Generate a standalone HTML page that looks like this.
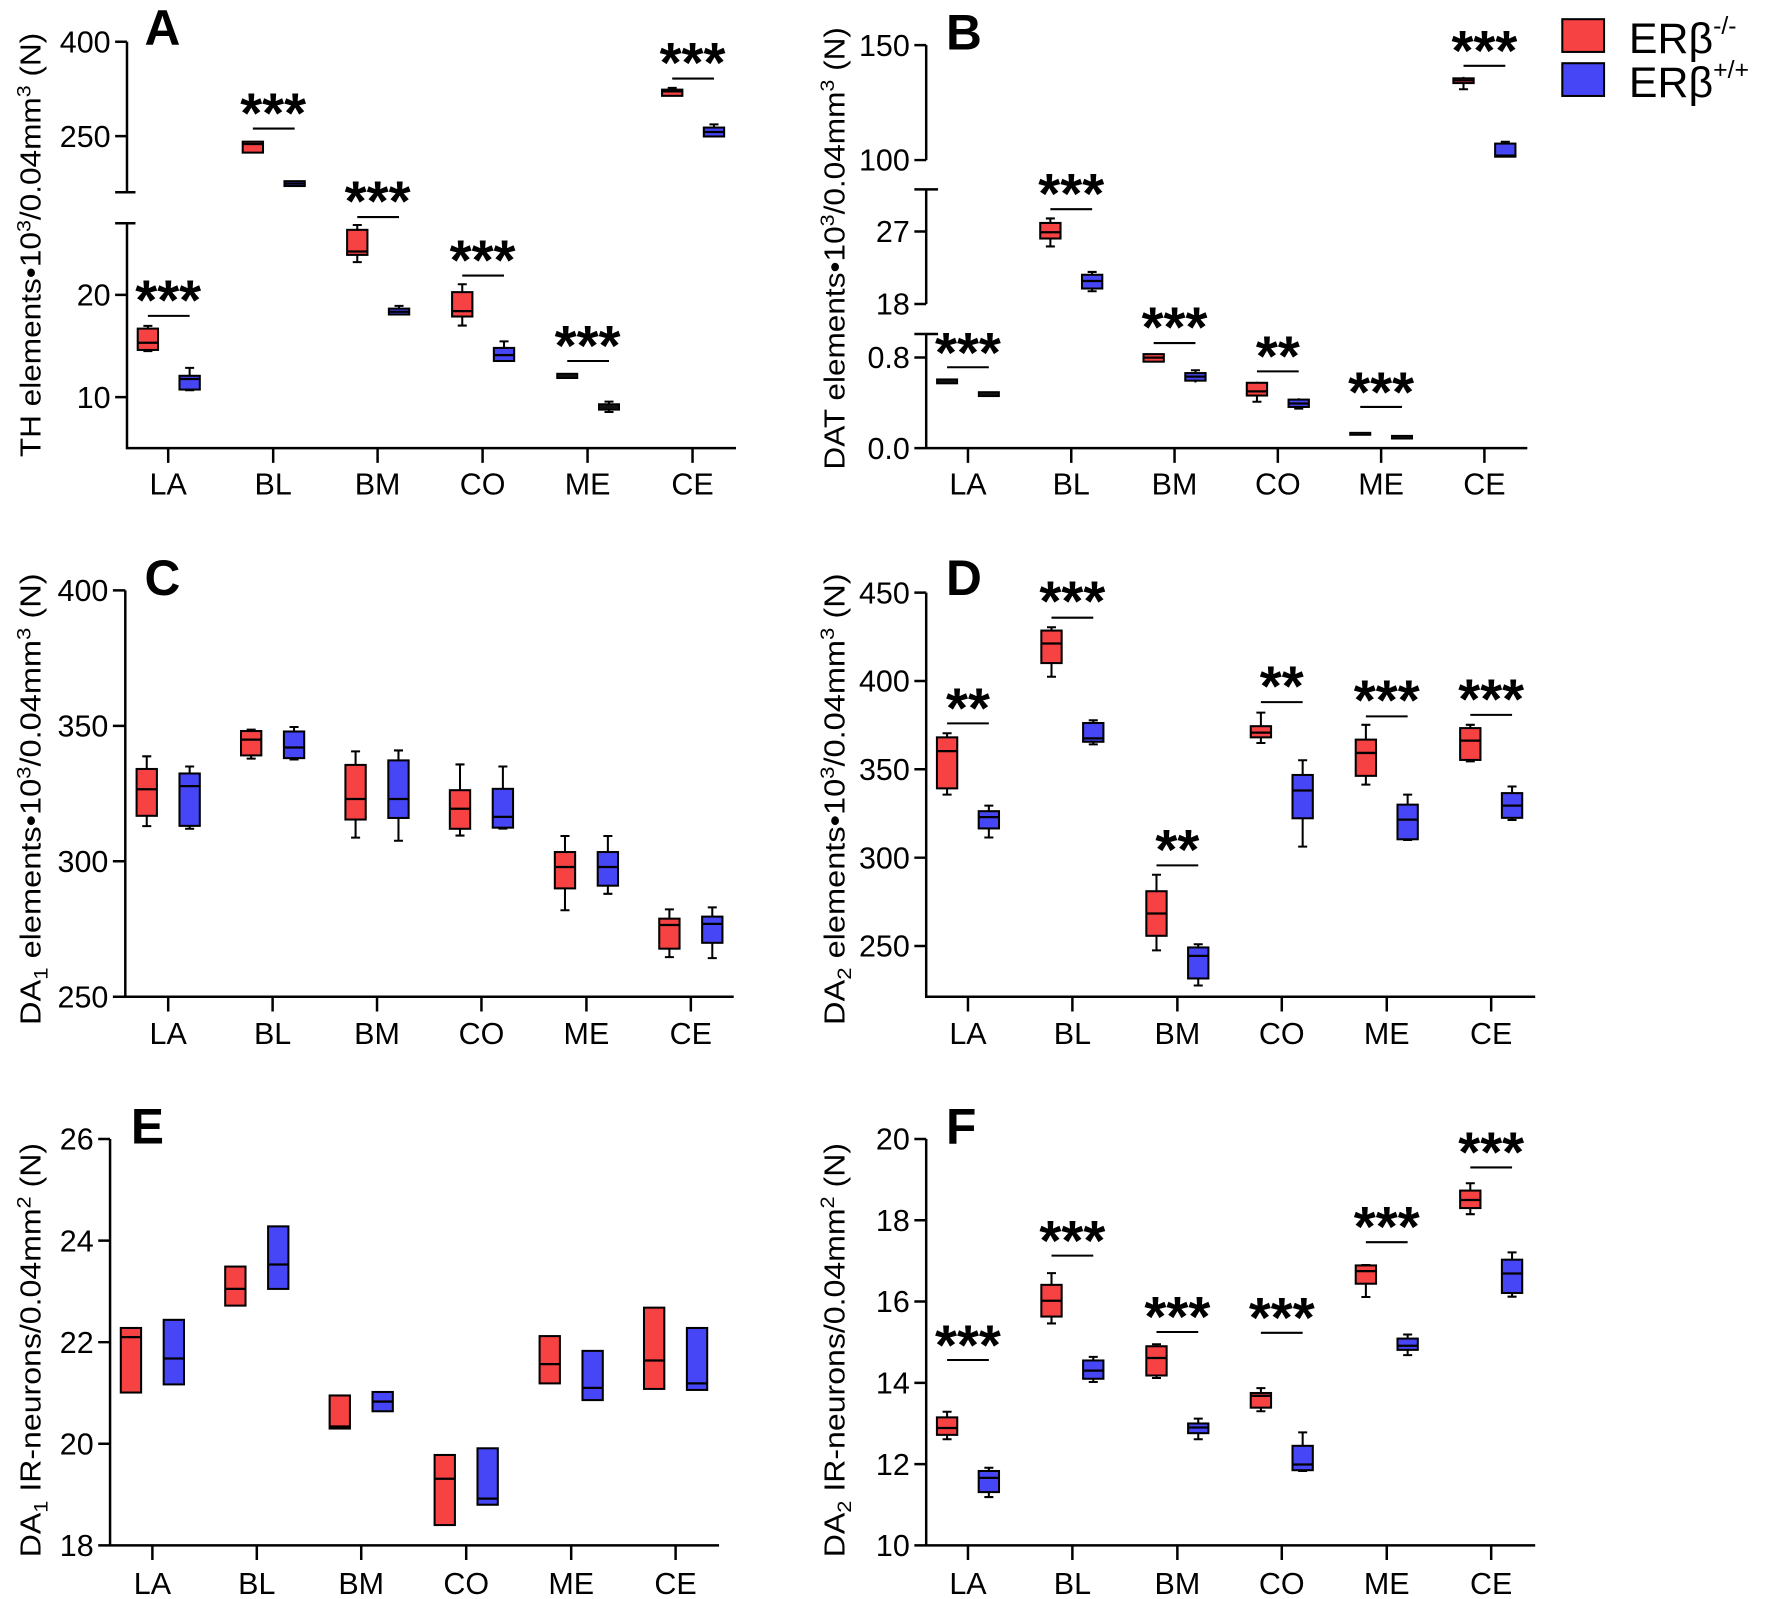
<!DOCTYPE html>
<html><head><meta charset="utf-8"><style>
html,body{margin:0;padding:0;background:#fff}
svg{display:block}
text{font-family:"Liberation Sans",Arial,sans-serif;fill:#000}
.ax{stroke:#000;stroke-width:2.2;fill:none}
.w{stroke:#000;stroke-width:1.8;fill:none}
.r{fill:#F64242;stroke:#000;stroke-width:1.8}
.b{fill:#4646F6;stroke:#000;stroke-width:1.8}
.k{fill:#111;stroke:#000;stroke-width:1.5}
.m{stroke:#000;stroke-width:2;fill:none}
.sg{stroke:#000;stroke-width:1.8}
.tl{font-size:27px;text-anchor:end}
.cl{font-size:27px;text-anchor:middle}
.st{font-size:50px;font-weight:bold;text-anchor:middle}
.pl{font-size:44px;font-weight:bold}
.yl{font-size:25px;text-anchor:middle}
</style></head><body>
<svg width="1770" height="1599" viewBox="0 0 1568 1416.5" preserveAspectRatio="none" xmlns="http://www.w3.org/2000/svg">

<!-- ============ PANEL A ============ -->
<text class="pl" x="128" y="40">A</text>
<path class="ax" d="M112.5 37V170.3 M112.5 197.8V397 H652 M102 37H112.5 M102 120.6H112.5 M102 170.3H120 M102 197.8H120 M102 261.2H112.5 M102 351.8H112.5 M149 397V410 M242 397V410 M334.5 397V410 M427.5 397V410 M520.5 397V410 M613.5 397V410"/>
<text class="tl" x="98" y="37" dy=".35em">400</text>
<text class="tl" x="98" y="120.6" dy=".35em">250</text>
<text class="tl" x="98" y="261.2" dy=".35em">20</text>
<text class="tl" x="98" y="351.8" dy=".35em">10</text>
<g class="cl"><text class="cl" x="149" y="438">LA</text><text class="cl" x="242" y="438">BL</text><text class="cl" x="334.5" y="438">BM</text><text class="cl" x="427.5" y="438">CO</text><text class="cl" x="520.5" y="438">ME</text><text class="cl" x="613.5" y="438">CE</text></g>
<text class="yl" transform="translate(36,217) rotate(-90)" textLength="376" lengthAdjust="spacingAndGlyphs">TH elements•10<tspan dy="-9" font-size="17">3</tspan><tspan dy="9">/0.04mm</tspan><tspan dy="-9" font-size="17">3</tspan><tspan dy="9"> (N)</tspan></text>
<path class="w" d="M131 288.7V311 M127 288.7h8 M127 311h8"/><rect class="r" x="122" y="291.1" width="18" height="18.9"/><path class="m" d="M122 303.6h18"/>
<path class="w" d="M168 325.9V345.7 M164 325.9h8 M164 345.7h8"/><rect class="b" x="159" y="332.9" width="18" height="12.2"/><path class="m" d="M159 335.7h18"/>
<rect class="r" x="215" y="125.5" width="18" height="9.7"/><path class="m" d="M215 127.6h18"/>
<rect class="b" x="252" y="160.5" width="18" height="4.3"/><path class="m" d="M252 162.7h18"/>
<path class="w" d="M316.5 199.3V232.2 M312.5 199.3h8 M312.5 232.2h8"/><rect class="r" x="307.5" y="203.6" width="18" height="22.2"/><path class="m" d="M307.5 222.8h18"/>
<path class="w" d="M353.5 271V279.2 M349.5 271h8"/><rect class="b" x="344.5" y="273.4" width="18" height="5.2"/><path class="m" d="M344.5 276.2h18"/>
<path class="w" d="M409.5 251.8V288.4 M405.5 251.8h8 M405.5 288.4h8"/><rect class="r" x="400.5" y="258.8" width="18" height="21.6"/><path class="m" d="M400.5 275.6h18"/>
<path class="w" d="M446.5 302.4V319.8 M442.5 302.4h8"/><rect class="b" x="437.5" y="308.2" width="18" height="11.6"/><path class="m" d="M437.5 314.6h18"/>
<rect class="k" x="493.5" y="331" width="18" height="4"/>
<path class="w" d="M539.5 355.8V365 M535.5 355.8h8 M535.5 365h8"/><rect class="k" x="530.5" y="358" width="18" height="5"/>
<path class="w" d="M595.5 77.9V84.9 M591.5 77.9h8"/><rect class="r" x="586.5" y="79.4" width="18" height="5.5"/><path class="m" d="M586.5 80.9h18"/>
<path class="w" d="M632.5 110.2V120.9 M628.5 110.2h8"/><rect class="b" x="623.5" y="113" width="18" height="7.9"/><path class="m" d="M623.5 116.9h18"/>
<path class="sg" d="M131 279.8H168 M224 113.9H261 M316.5 192.3H353.5 M409.5 244.1H446.5 M502.5 319.8H539.5 M595.5 69.6H632.5"/>
<text class="st" x="149" y="283">***</text><text class="st" x="242" y="117.5">***</text><text class="st" x="334.5" y="195.3">***</text><text class="st" x="427.5" y="247.4">***</text><text class="st" x="520.5" y="323.4">***</text><text class="st" x="613.5" y="72.6">***</text>

<!-- ============ PANEL B ============ -->
<text class="pl" x="838" y="44">B</text>
<path class="ax" d="M820.5 40V141.8 M820.5 167.8V269.3 M820.5 295.9V397 H1353 M810 40H820.5 M810 141.8H820.5 M810 167.8H831 M810 205.1H820.5 M810 269.3H820.5 M810 295.9H831 M810 316.7H820.5 M810 397H820.5 M857.5 397V410 M949 397V410 M1040.5 397V410 M1132 397V410 M1223.5 397V410 M1315 397V410"/>
<text class="tl" x="806" y="40" dy=".35em">150</text>
<text class="tl" x="806" y="141.8" dy=".35em">100</text>
<text class="tl" x="806" y="205.1" dy=".35em">27</text>
<text class="tl" x="806" y="269.3" dy=".35em">18</text>
<text class="tl" x="806" y="316.7" dy=".35em">0.8</text>
<text class="tl" x="806" y="397" dy=".35em">0.0</text>
<text class="cl" x="857.5" y="438">LA</text><text class="cl" x="949" y="438">BL</text><text class="cl" x="1040.5" y="438">BM</text><text class="cl" x="1132" y="438">CO</text><text class="cl" x="1223.5" y="438">ME</text><text class="cl" x="1315" y="438">CE</text>
<text class="yl" transform="translate(748,220) rotate(-90)" textLength="392" lengthAdjust="spacingAndGlyphs">DAT elements•10<tspan dy="-9" font-size="17">3</tspan><tspan dy="9">/0.04mm</tspan><tspan dy="-9" font-size="17">3</tspan><tspan dy="9"> (N)</tspan></text>
<rect class="k" x="830" y="336" width="18" height="3.7"/>
<rect class="k" x="867" y="347.3" width="18" height="3.7"/>
<path class="w" d="M930.5 193.5V218.3 M926.5 193.5h8 M926.5 218.3h8"/><rect class="r" x="921.5" y="197.5" width="18" height="13.8"/><path class="m" d="M921.5 205.7h18"/>
<path class="w" d="M967.5 240.9V258 M963.5 240.9h8 M963.5 258h8"/><rect class="b" x="958.5" y="243.4" width="18" height="12.2"/><path class="m" d="M958.5 248.9h18"/>
<rect class="r" x="1013" y="313.7" width="18" height="6.7"/><path class="m" d="M1013 316.8h18"/>
<path class="w" d="M1059 328V338.8 M1055 328h8"/><rect class="b" x="1050" y="330.5" width="18" height="6.7"/><path class="m" d="M1050 333.6h18"/>
<path class="w" d="M1113.5 338.2V355.9 M1109.5 355.9h8"/><rect class="r" x="1104.5" y="339.1" width="18" height="11.3"/><path class="m" d="M1104.5 346.7h18"/>
<path class="w" d="M1150.5 352.8V362 M1146.5 362h8"/><rect class="b" x="1141.5" y="354" width="18" height="6.5"/><path class="m" d="M1141.5 357.4h18"/>
<rect class="k" x="1196" y="383.3" width="18" height="2"/>
<rect class="k" x="1233" y="386" width="18" height="2.6"/>
<path class="w" d="M1296.5 68.1V79.1 M1292.5 79.1h8"/><rect class="r" x="1287.5" y="69.4" width="18" height="4.2"/><path class="m" d="M1287.5 71.2h18"/>
<path class="w" d="M1333.5 125.6V138.8 M1329.5 125.6h8"/><rect class="b" x="1324.5" y="127.2" width="18" height="11.6"/><path class="m" d="M1324.5 137.9h18"/>
<path class="sg" d="M839 325.3H876 M930.5 185.3H967.5 M1022 303.9H1059 M1113.5 329H1150.5 M1205 360.5H1242 M1296.5 58.3H1333.5"/>
<text class="st" x="857.5" y="329.5">***</text><text class="st" x="949" y="188.8">***</text><text class="st" x="1040.5" y="307">***</text><text class="st" x="1132" y="332.5">**</text><text class="st" x="1223.5" y="364.6">***</text><text class="st" x="1315" y="61.9">***</text>

<!-- Legend -->
<rect x="1384" y="17" width="37" height="29" fill="#F64242" stroke="#000" stroke-width="1.8"/>
<rect x="1384" y="56" width="37" height="29" fill="#4646F6" stroke="#000" stroke-width="1.8"/>
<text x="1443" y="47" font-size="38">ERβ<tspan dy="-17" font-size="22">-/-</tspan></text>
<text x="1443" y="86" font-size="38">ERβ<tspan dy="-17" font-size="22">+/+</tspan></text>

<!-- ============ PANEL C ============ -->
<text class="pl" x="128" y="527">C</text>
<path class="ax" d="M111 523V883 H650 M100 523H111 M100 643H111 M100 763H111 M100 883H111 M149 883V896 M241.5 883V896 M334 883V896 M426.5 883V896 M519.5 883V896 M612 883V896"/>
<text class="tl" x="96" y="523" dy=".35em">400</text>
<text class="tl" x="96" y="643" dy=".35em">350</text>
<text class="tl" x="96" y="763" dy=".35em">300</text>
<text class="tl" x="96" y="883" dy=".35em">250</text>
<text class="cl" x="149" y="925">LA</text><text class="cl" x="241.5" y="925">BL</text><text class="cl" x="334" y="925">BM</text><text class="cl" x="426.5" y="925">CO</text><text class="cl" x="519.5" y="925">ME</text><text class="cl" x="612" y="925">CE</text>
<text class="yl" transform="translate(36,708) rotate(-90)" textLength="400" lengthAdjust="spacingAndGlyphs">DA<tspan dy="6" font-size="17">1</tspan><tspan dy="-6"> elements•10</tspan><tspan dy="-9" font-size="17">3</tspan><tspan dy="9">/0.04mm</tspan><tspan dy="-9" font-size="17">3</tspan><tspan dy="9"> (N)</tspan></text>
<path class="w" d="M130 670V731.8 M126 670h8 M126 731.8h8"/><rect class="r" x="121" y="681.2" width="18" height="41.5"/><path class="m" d="M121 699.2h18"/>
<path class="w" d="M168 679V734.2 M164 679h8 M164 734.2h8"/><rect class="b" x="159" y="685.2" width="18" height="46.4"/><path class="m" d="M159 696.4h18"/>
<path class="w" d="M222.5 646.4V672 M218.5 646.4h8 M218.5 672h8"/><rect class="r" x="213.5" y="647.6" width="18" height="21.6"/><path class="m" d="M213.5 655.2h18"/>
<path class="w" d="M260.5 644V672.8 M256.5 644h8 M256.5 672.8h8"/><rect class="b" x="251.5" y="648" width="18" height="23.6"/><path class="m" d="M251.5 662.2h18"/>
<path class="w" d="M315 665.6V742 M311 665.6h8 M311 742h8"/><rect class="r" x="306" y="677.6" width="18" height="48.4"/><path class="m" d="M306 707.8h18"/>
<path class="w" d="M353 664.8V744.8 M349 664.8h8 M349 744.8h8"/><rect class="b" x="344" y="673.6" width="18" height="51"/><path class="m" d="M344 707.8h18"/>
<path class="w" d="M407.5 677.2V740.2 M403.5 677.2h8 M403.5 740.2h8"/><rect class="r" x="398.5" y="700" width="18" height="34.2"/><path class="m" d="M398.5 716.4h18"/>
<path class="w" d="M445.5 679V734 M441.5 679h8 M441.5 734h8"/><rect class="b" x="436.5" y="698.8" width="18" height="34.4"/><path class="m" d="M436.5 723.6h18"/>
<path class="w" d="M500.5 740.6V806.4 M496.5 740.6h8 M496.5 806.4h8"/><rect class="r" x="491.5" y="754.8" width="18" height="32.2"/><path class="m" d="M491.5 768h18"/>
<path class="w" d="M538.5 740.6V791.8 M534.5 740.6h8 M534.5 791.8h8"/><rect class="b" x="529.5" y="754.8" width="18" height="29.8"/><path class="m" d="M529.5 768h18"/>
<path class="w" d="M593 805.6V847.9 M589 805.6h8 M589 847.9h8"/><rect class="r" x="584" y="813.8" width="18" height="26.6"/><path class="m" d="M584 819.4h18"/>
<path class="w" d="M631 803.8V848.8 M627 803.8h8 M627 848.8h8"/><rect class="b" x="622" y="812" width="18" height="23.2"/><path class="m" d="M622 818.4h18"/>

<!-- ============ PANEL D ============ -->
<text class="pl" x="838" y="527">D</text>
<path class="ax" d="M820.5 525V883 H1360 M810 525H820.5 M810 603.3H820.5 M810 681.5H820.5 M810 759.8H820.5 M810 838H820.5 M857.5 883V896 M950 883V896 M1043 883V896 M1135.5 883V896 M1228.5 883V896 M1321 883V896"/>
<text class="tl" x="806" y="525" dy=".35em">450</text>
<text class="tl" x="806" y="603.3" dy=".35em">400</text>
<text class="tl" x="806" y="681.5" dy=".35em">350</text>
<text class="tl" x="806" y="759.8" dy=".35em">300</text>
<text class="tl" x="806" y="838" dy=".35em">250</text>
<text class="cl" x="857.5" y="925">LA</text><text class="cl" x="950" y="925">BL</text><text class="cl" x="1043" y="925">BM</text><text class="cl" x="1135.5" y="925">CO</text><text class="cl" x="1228.5" y="925">ME</text><text class="cl" x="1321" y="925">CE</text>
<text class="yl" transform="translate(748,708) rotate(-90)" textLength="400" lengthAdjust="spacingAndGlyphs">DA<tspan dy="6" font-size="17">2</tspan><tspan dy="-6"> elements•10</tspan><tspan dy="-9" font-size="17">3</tspan><tspan dy="9">/0.04mm</tspan><tspan dy="-9" font-size="17">3</tspan><tspan dy="9"> (N)</tspan></text>
<path class="w" d="M839 649.6V703.9 M835 649.6h8 M835 703.9h8"/><rect class="r" x="830" y="653.2" width="18" height="45.2"/><path class="m" d="M830 665.4h18"/>
<path class="w" d="M876 713.7V741.9 M872 713.7h8 M872 741.9h8"/><rect class="b" x="867" y="718.6" width="18" height="15.3"/><path class="m" d="M867 723.9h18"/>
<path class="w" d="M931.5 555.7V599.5 M927.5 555.7h8 M927.5 599.5h8"/><rect class="r" x="922.5" y="558.6" width="18" height="28.8"/><path class="m" d="M922.5 570.1h18"/>
<path class="w" d="M968.5 638.1V659.4 M964.5 638.1h8 M964.5 659.4h8"/><rect class="b" x="959.5" y="640.5" width="18" height="16.6"/><path class="m" d="M959.5 654.1h18"/>
<path class="w" d="M1024.5 774.9V841.9 M1020.5 774.9h8 M1020.5 841.9h8"/><rect class="r" x="1015.5" y="789.5" width="18" height="39.5"/><path class="m" d="M1015.5 809.2h18"/>
<path class="w" d="M1061.5 836.5V873 M1057.5 836.5h8 M1057.5 873h8"/><rect class="b" x="1052.5" y="839.3" width="18" height="27.5"/><path class="m" d="M1052.5 846.8h18"/>
<path class="w" d="M1117 631.3V658.2 M1113 631.3h8 M1113 658.2h8"/><rect class="r" x="1108" y="643.3" width="18" height="9.9"/><path class="m" d="M1108 649h18"/>
<path class="w" d="M1154 673.5V750 M1150 673.5h8 M1150 750h8"/><rect class="b" x="1145" y="686.5" width="18" height="38.4"/><path class="m" d="M1145 700.3h18"/>
<path class="w" d="M1210 642.1V695.1 M1206 642.1h8 M1206 695.1h8"/><rect class="r" x="1201" y="655.2" width="18" height="32.1"/><path class="m" d="M1201 667h18"/>
<path class="w" d="M1247 703.9V744.1 M1243 703.9h8 M1243 744.1h8"/><rect class="b" x="1238" y="712.8" width="18" height="30.7"/><path class="m" d="M1238 726.1h18"/>
<path class="w" d="M1302.5 642.1V674.5 M1298.5 642.1h8 M1298.5 674.5h8"/><rect class="r" x="1293.5" y="645" width="18" height="28.2"/><path class="m" d="M1293.5 656.1h18"/>
<path class="w" d="M1339.5 696.7V726.4 M1335.5 696.7h8 M1335.5 726.4h8"/><rect class="b" x="1330.5" y="702.6" width="18" height="21.9"/><path class="m" d="M1330.5 713.7h18"/>
<path class="sg" d="M839 640.8H876 M931.5 547.2H968.5 M1024.5 766.6H1061.5 M1117 622H1154 M1210 634.6H1247 M1302.5 633.3H1339.5"/>
<text class="st" x="857.5" y="644.6">**</text><text class="st" x="950" y="549.9">***</text><text class="st" x="1043" y="769.9">**</text><text class="st" x="1135.5" y="625">**</text><text class="st" x="1228.5" y="637.5">***</text><text class="st" x="1321" y="636.4">***</text>

<!-- ============ PANEL E ============ -->
<text class="pl" x="116" y="1013">E</text>
<path class="ax" d="M97.5 1009V1369 H637 M87 1009H97.5 M87 1099H97.5 M87 1189H97.5 M87 1279H97.5 M87 1369H97.5 M135 1369V1382 M227.5 1369V1382 M320 1369V1382 M413 1369V1382 M506 1369V1382 M598.5 1369V1382"/>
<text class="tl" x="83" y="1009" dy=".35em">26</text>
<text class="tl" x="83" y="1099" dy=".35em">24</text>
<text class="tl" x="83" y="1189" dy=".35em">22</text>
<text class="tl" x="83" y="1279" dy=".35em">20</text>
<text class="tl" x="83" y="1369" dy=".35em">18</text>
<text class="cl" x="135" y="1412">LA</text><text class="cl" x="227.5" y="1412">BL</text><text class="cl" x="320" y="1412">BM</text><text class="cl" x="413" y="1412">CO</text><text class="cl" x="506" y="1412">ME</text><text class="cl" x="598.5" y="1412">CE</text>
<text class="yl" transform="translate(36,1196) rotate(-90)" textLength="367" lengthAdjust="spacingAndGlyphs">DA<tspan dy="6" font-size="17">1</tspan><tspan dy="-6"> IR-neurons/0.04mm</tspan><tspan dy="-9" font-size="17">2</tspan><tspan dy="9"> (N)</tspan></text>
<rect class="r" x="107" y="1176.4" width="18" height="57.2"/><path class="m" d="M107 1184.5h18"/>
<rect class="b" x="145" y="1169.2" width="18" height="57.2"/><path class="m" d="M145 1203.4h18"/>
<rect class="r" x="199.5" y="1122" width="18" height="34.6"/><path class="m" d="M199.5 1141.8h18"/>
<rect class="b" x="237.5" y="1086.4" width="18" height="55.4"/><path class="m" d="M237.5 1120.2h18"/>
<rect class="r" x="292" y="1236.2" width="18" height="29.3"/><path class="m" d="M292 1263.7h18"/>
<rect class="b" x="330" y="1233.1" width="18" height="17.1"/><path class="m" d="M330 1241.6h18"/>
<rect class="r" x="385" y="1288.9" width="18" height="62.1"/><path class="m" d="M385 1310h18"/>
<rect class="b" x="423" y="1283" width="18" height="50"/><path class="m" d="M423 1327.6h18"/>
<rect class="r" x="478" y="1183.6" width="18" height="41.9"/><path class="m" d="M478 1208.4h18"/>
<rect class="b" x="516" y="1196.7" width="18" height="43.6"/><path class="m" d="M516 1229.5h18"/>
<rect class="r" x="570.5" y="1158.4" width="18" height="72"/><path class="m" d="M570.5 1205.2h18"/>
<rect class="b" x="608.5" y="1176.4" width="18" height="54.9"/><path class="m" d="M608.5 1225.5h18"/>

<!-- ============ PANEL F ============ -->
<text class="pl" x="838" y="1013">F</text>
<path class="ax" d="M820.5 1009V1369 H1360 M810 1009H820.5 M810 1081H820.5 M810 1153H820.5 M810 1225H820.5 M810 1297H820.5 M810 1369H820.5 M857.5 1369V1382 M950 1369V1382 M1043 1369V1382 M1135.5 1369V1382 M1228.5 1369V1382 M1321 1369V1382"/>
<text class="tl" x="806" y="1009" dy=".35em">20</text>
<text class="tl" x="806" y="1081" dy=".35em">18</text>
<text class="tl" x="806" y="1153" dy=".35em">16</text>
<text class="tl" x="806" y="1225" dy=".35em">14</text>
<text class="tl" x="806" y="1297" dy=".35em">12</text>
<text class="tl" x="806" y="1369" dy=".35em">10</text>
<text class="cl" x="857.5" y="1412">LA</text><text class="cl" x="950" y="1412">BL</text><text class="cl" x="1043" y="1412">BM</text><text class="cl" x="1135.5" y="1412">CO</text><text class="cl" x="1228.5" y="1412">ME</text><text class="cl" x="1321" y="1412">CE</text>
<text class="yl" transform="translate(748,1196) rotate(-90)" textLength="367" lengthAdjust="spacingAndGlyphs">DA<tspan dy="6" font-size="17">2</tspan><tspan dy="-6"> IR-neurons/0.04mm</tspan><tspan dy="-9" font-size="17">2</tspan><tspan dy="9"> (N)</tspan></text>
<path class="w" d="M839 1250.6V1275 M835 1250.6h8 M835 1275h8"/><rect class="r" x="830" y="1255.6" width="18" height="15.5"/><path class="m" d="M830 1265h18"/>
<path class="w" d="M876 1300.2V1326.2 M872 1300.2h8 M872 1326.2h8"/><rect class="b" x="867" y="1303.1" width="18" height="18.7"/><path class="m" d="M867 1309.2h18"/>
<path class="w" d="M931.5 1127.8V1172.4 M927.5 1127.8h8 M927.5 1172.4h8"/><rect class="r" x="922.5" y="1138.2" width="18" height="28.1"/><path class="m" d="M922.5 1152.3h18"/>
<path class="w" d="M968.5 1202V1224.3 M964.5 1202h8 M964.5 1224.3h8"/><rect class="b" x="959.5" y="1205.2" width="18" height="16.2"/><path class="m" d="M959.5 1214.2h18"/>
<path class="w" d="M1024.5 1190.8V1220.7 M1020.5 1190.8h8 M1020.5 1220.7h8"/><rect class="r" x="1015.5" y="1192.6" width="18" height="25.9"/><path class="m" d="M1015.5 1203h18"/>
<path class="w" d="M1061.5 1256.7V1275 M1057.5 1256.7h8 M1057.5 1275h8"/><rect class="b" x="1052.5" y="1261" width="18" height="8.6"/><path class="m" d="M1052.5 1264.6h18"/>
<path class="w" d="M1117 1229.7V1250.2 M1113 1229.7h8 M1113 1250.2h8"/><rect class="r" x="1108" y="1234" width="18" height="13"/><path class="m" d="M1108 1236.5h18"/>
<path class="w" d="M1154 1268.9V1303.1 M1150 1268.9h8 M1150 1303.1h8"/><rect class="b" x="1145" y="1280.8" width="18" height="21.6"/><path class="m" d="M1145 1297.4h18"/>
<path class="w" d="M1210 1120.6V1149 M1206 1120.6h8 M1206 1149h8"/><rect class="r" x="1201" y="1121" width="18" height="16.2"/><path class="m" d="M1201 1126h18"/>
<path class="w" d="M1247 1182.2V1200.5 M1243 1182.2h8 M1243 1200.5h8"/><rect class="b" x="1238" y="1185.8" width="18" height="10"/><path class="m" d="M1238 1192.2h18"/>
<path class="w" d="M1302.5 1048.2V1075.6 M1298.5 1048.2h8 M1298.5 1075.6h8"/><rect class="r" x="1293.5" y="1054.7" width="18" height="15.5"/><path class="m" d="M1293.5 1063h18"/>
<path class="w" d="M1339.5 1109.4V1148.7 M1335.5 1109.4h8 M1335.5 1148.7h8"/><rect class="b" x="1330.5" y="1115.9" width="18" height="29.5"/><path class="m" d="M1330.5 1128.2h18"/>
<path class="sg" d="M839 1204.8H876 M931.5 1112.3H968.5 M1024.5 1180H1061.5 M1117 1180.7H1154 M1210 1100.4H1247 M1302.5 1034.2H1339.5"/>
<text class="st" x="857.5" y="1208.7">***</text><text class="st" x="950" y="1116.2">***</text><text class="st" x="1043" y="1183.5">***</text><text class="st" x="1135.5" y="1184.2">***</text><text class="st" x="1228.5" y="1103.6">***</text><text class="st" x="1321" y="1037.7">***</text>

</svg>
</body></html>
